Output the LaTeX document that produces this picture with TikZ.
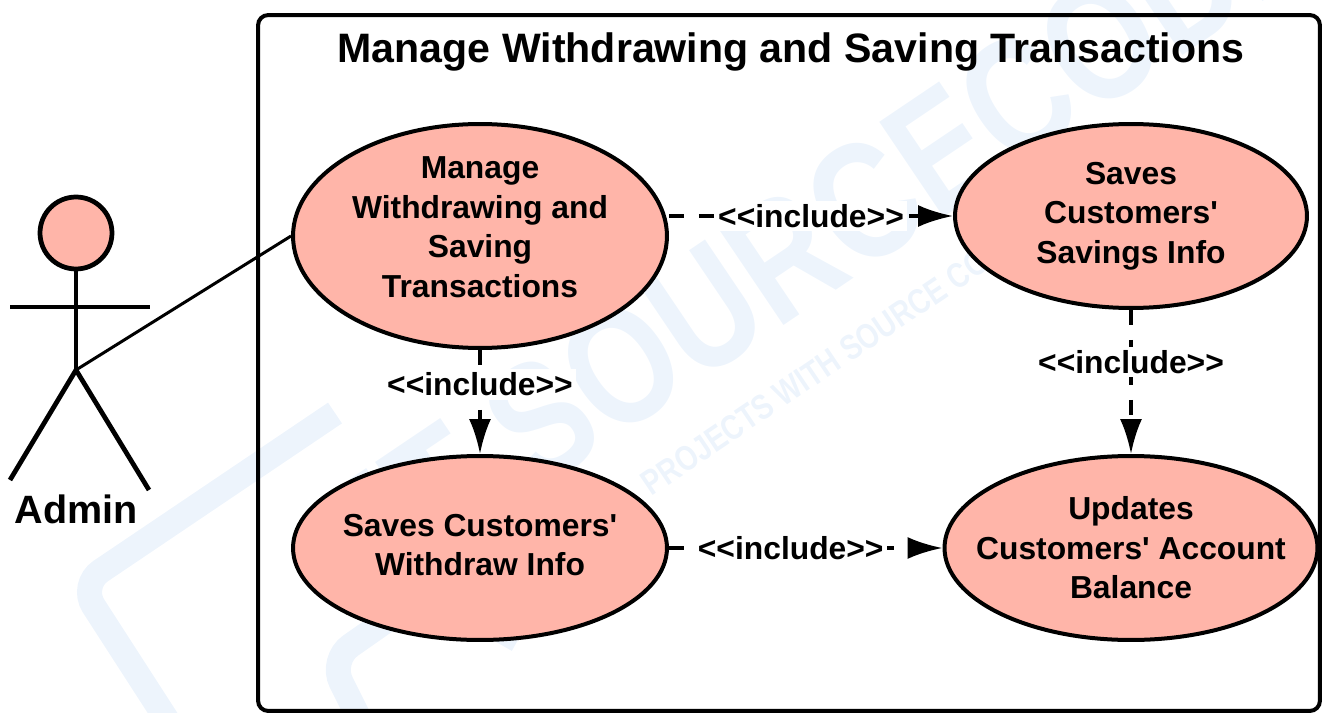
\documentclass[tikz,border=0pt]{standalone}
\usepackage{fontspec}
\setmainfont{Liberation Sans}
\newfontfamily\markfont[FakeStretch=0.8]{Liberation Sans}
\usetikzlibrary{arrows.meta,shapes.geometric}
\definecolor{usecasefill}{HTML}{FFB5A9}
\definecolor{markblue}{HTML}{EDF4FC}
\tikzset{
  usecase/.style={draw,ellipse,line width=0.08cm,fill=usecasefill,inner xsep=-1.5cm,inner ysep=-1cm,align=center,
    font=\bfseries\fontsize{18.1}{22.5}\selectfont},
  actorline/.style={line width=0.095cm},
  include/.style={line width=0.07cm,dash pattern=on 0.3cm off 0.3cm,
    -{Latex[length=0.7cm,width=0.44cm]}},
  includelabel/.style={fill=white,inner sep=2pt,font=\bfseries\fontsize{18.1}{20}\selectfont},
  watermark/.style={text=markblue,anchor=west,rotate=34},
  markline/.style={draw=markblue,line width=0.5cm,rounded corners=0.5cm}
}
\newcommand{\inc}{<{}<include>{}>}
\newcommand{\lift}[1]{\rule[-#1]{0pt}{0pt}}
\begin{document}
\begin{tikzpicture}[x=0.02cm,y=-0.02cm]
  \useasboundingbox (0,0) rectangle (1323,713);
  \begin{scope}
    \clip (0,0) rectangle (1323,713);
    \draw[markline] (335,413) -- (80,585) -- (180,740);
    \draw[markline] (518,640) -- (430,590) -- (330,660) -- (370,740);
    \node[watermark,font=\markfont\bfseries\fontsize{95}{95}\selectfont] (brand) at (370,535) {IT SOURCECODE};
    \node[watermark,font=\markfont\bfseries\fontsize{20}{20}\selectfont] (strap) at (640,490) {PROJECTS WITH SOURCE CODE TUTORIALS};
  \end{scope}
  \node[draw,rounded corners=0.2cm,line width=0.08cm,minimum width=21.24cm,minimum height=13.92cm] (system) at (789,363) {};
  \node[font=\bfseries\fontsize{23.4}{28}\selectfont] (title) at (791,52) {Manage Withdrawing and Saving Transactions};
  \node[usecase,minimum width=7.48cm,minimum height=4.48cm] (manage) at (480,236) {Manage\\Withdrawing and\\Saving\\Transactions\lift{0.36cm}};
  \node[usecase,minimum width=7.04cm,minimum height=3.68cm] (savings) at (1131,216) {Saves\\Customers\textquotesingle\\Savings Info};
  \node[usecase,minimum width=7.48cm,minimum height=3.68cm] (withdraw) at (480,548) {Saves Customers\textquotesingle\\Withdraw Info\lift{0.12cm}};
  \node[usecase,minimum width=7.46cm,minimum height=3.68cm] (balance) at (1131,548) {Updates\\Customers\textquotesingle\ Account\\Balance};
  \node[draw,circle,line width=0.095cm,fill=usecasefill,minimum size=1.44cm,inner sep=0pt] (head) at (76,233) {};
  \coordinate (hip) at (76,370);
  \coordinate (armleft) at (10,307);
  \coordinate (armright) at (150,307);
  \coordinate (footleft) at (10,480);
  \coordinate (footright) at (149,490);
  \node[font=\bfseries\fontsize{22.5}{26}\selectfont] (admin) at (76,509) {Admin};
  \draw[actorline] (head) -- (hip);
  \draw[actorline] (armleft) -- (armright);
  \draw[actorline] (footleft) -- (hip) -- (footright);
  \draw[line width=0.06cm] (hip) -- (manage.west);
  \draw[include] (savings.west -| manage.east) -- node[includelabel,pos=0.5] (label1) {\inc} (savings.west);
  \draw[include] (manage.south) -- node[includelabel,pos=0.33] (label2) {\inc} (withdraw.north);
  \draw[include] (savings.south) -- node[includelabel,pos=0.36] (label3) {\inc} (balance.north);
  \draw[include] (withdraw.east) -- node[includelabel,pos=0.445] (label4) {\inc} (balance.west);
\end{tikzpicture}
\end{document}
